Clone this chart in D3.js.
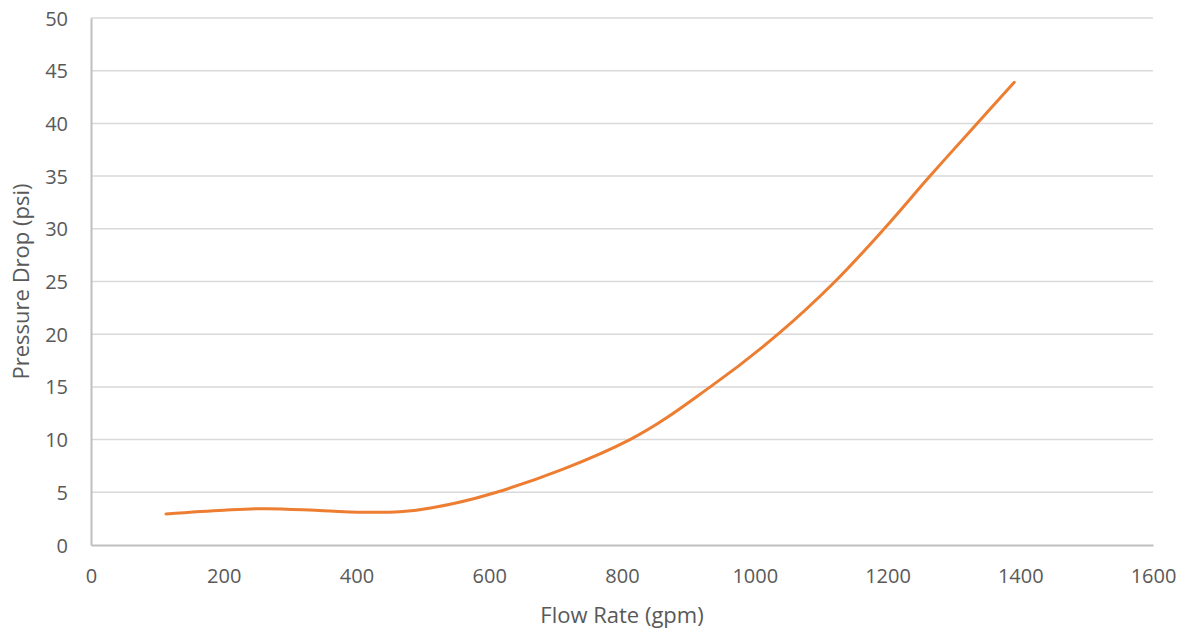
<!DOCTYPE html>
<html>
<head>
<meta charset="utf-8">
<script src="https://cdn.jsdelivr.net/npm/d3@7"></script>
<style>
    body { margin: 0; background: #fff; }
    text { font-family: "Open Sans", sans-serif; fill: #595959; }
</style>
</head>
<body>
<div id="chart"></div>
<script>
// flow rate (gpm) and pressure drop (psi)
var flowRate = [113, 200, 265, 350, 425, 490, 611, 812, 933, 1035, 1121, 1195, 1264, 1335, 1391];
var pressureDrop = [2.95, 3.3, 3.45, 3.25, 3.1, 3.3, 5, 10, 15, 20, 25, 30, 35, 40, 43.9];
var xTicks = [0, 200, 400, 600, 800, 1000, 1200, 1400, 1600];
var yTicks = [0, 5, 10, 15, 20, 25, 30, 35, 40, 45, 50];

var margin = {top: 18, right: 37, bottom: 90, left: 91};
var width = 1190 - margin.left - margin.right;
var height = 635 - margin.top - margin.bottom;

var svg = d3.select("#chart").append("svg")
    .attr("width", 1190)
    .attr("height", 635)
    .append("g")
    .attr("transform", "translate(" + margin.left + "," + margin.top + ")");

var x = d3.scaleLinear().domain([0, 1600]).range([0, width]);
var y = d3.scaleLinear().domain([0, 50]).range([height, 0]);

// gridlines
svg.selectAll(".grid")
    .data(yTicks.filter(function(d){ return d > 0; }))
    .enter().append("line")
    .attr("class", "grid")
    .attr("x1", 0)
    .attr("x2", width)
    .attr("y1", function(d){ return y(d); })
    .attr("y2", function(d){ return y(d); })
    .attr("stroke", "#d9d9d9")
    .attr("stroke-width", 1.5);

// axes
var xAxis = d3.axisBottom(x).tickValues(xTicks).tickFormat(d3.format("d")).tickSize(0).tickPadding(24);
var yAxis = d3.axisLeft(y).tickValues(yTicks).tickFormat(d3.format("d")).tickSize(0).tickPadding(23);

svg.append("g")
    .attr("class", "x-axis")
    .attr("transform", "translate(0," + height + ")")
    .call(xAxis);
svg.append("g")
    .attr("class", "y-axis")
    .call(yAxis);

svg.selectAll(".x-axis .domain, .y-axis .domain")
    .attr("stroke", "#bfbfbf")
    .attr("stroke-width", 2);
svg.selectAll(".tick text")
    .style("font-size", "20px")
    .style("font-family", "'Open Sans', sans-serif")
    .attr("fill", "#595959");
svg.selectAll(".y-axis .tick text").attr("dy", "0.35em");

// line
var points = flowRate.map(function(d, i){ return [d, pressureDrop[i]]; });
var line = d3.line()
    .x(function(d){ return x(d[0]); })
    .y(function(d){ return y(d[1]); })
    .curve(d3.curveCatmullRom.alpha(0.5));

svg.append("path")
    .datum(points)
    .attr("d", line)
    .attr("fill", "none")
    .attr("stroke", "#ed7d31")
    .attr("stroke-width", 3)
    .attr("stroke-linecap", "round");

// axis titles
svg.append("text")
    .attr("x", width / 2)
    .attr("y", height + 78)
    .attr("text-anchor", "middle")
    .style("font-size", "22px")
    .text("Flow Rate (gpm)");

svg.append("text")
    .attr("transform", "translate(" + (-62) + "," + (height / 2) + ") rotate(-90)")
    .attr("text-anchor", "middle")
    .style("font-size", "22px")
    .text("Pressure Drop (psi)");
</script>
</body>
</html>
